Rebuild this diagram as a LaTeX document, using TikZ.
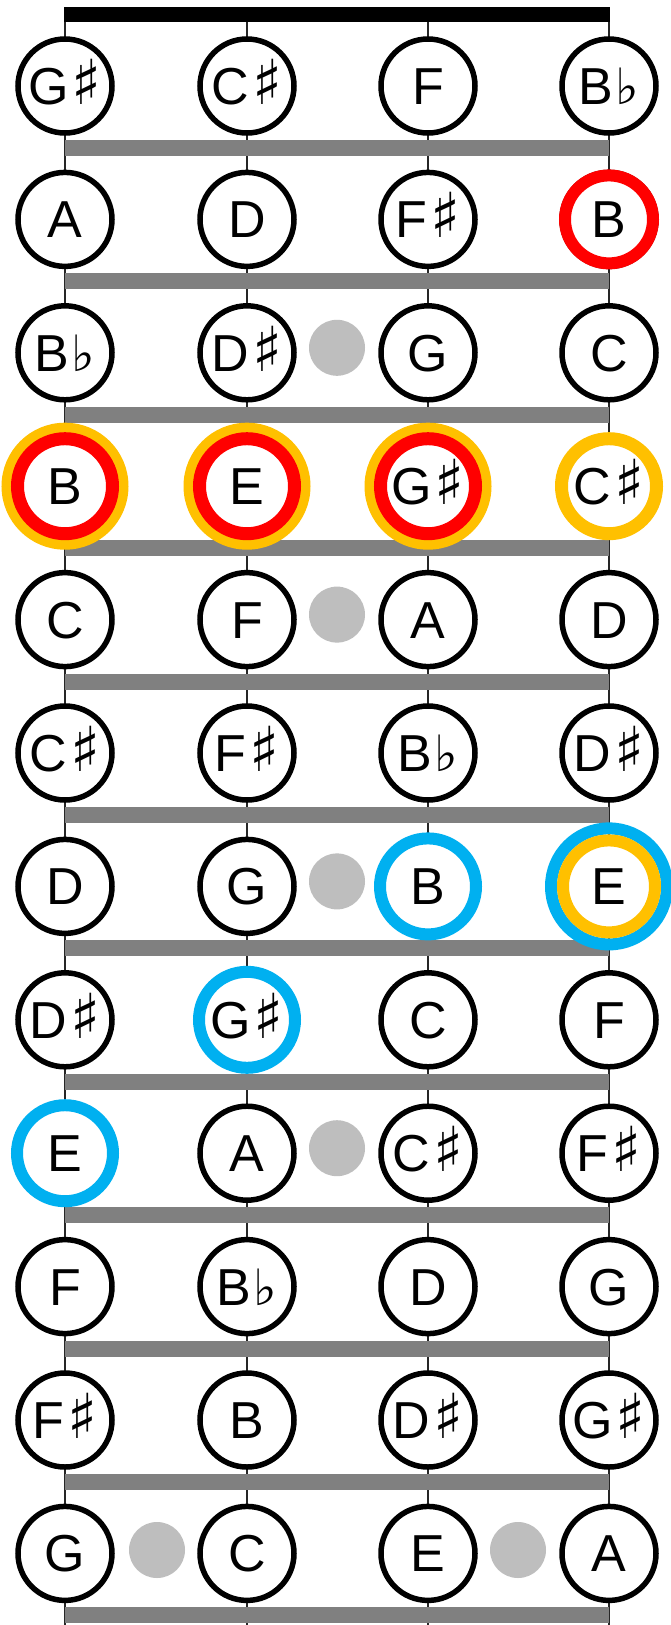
\documentclass[tikz,border=0pt]{standalone}
\usepackage{fontspec}
\setmainfont{Liberation Sans}
\newfontfamily\symfont{DejaVu Sans}
\newcommand\sh{\kern3pt{\symfont\fontsize{62}{62}\selectfont ♯}}
\newcommand\fl{\kern2pt{\symfont\fontsize{50}{50}\selectfont ♭}}
\definecolor{fretgray}{RGB}{128,128,128}
\definecolor{dotgray}{RGB}{190,190,190}
\definecolor{ringred}{RGB}{255,0,0}
\definecolor{ringorange}{RGB}{255,192,0}
\definecolor{ringblue}{RGB}{0,176,240}
\begin{document}
\begin{tikzpicture}[x=1pt,y=-1pt,
  note/.style={circle,draw=black,line width=5.5pt,fill=white,minimum size=94pt,inner sep=0pt,
    text height=37pt,text depth=0pt,font=\fontsize{52}{52}\selectfont},
  stringline/.style={line width=2.5pt,draw=black!85},
  fretbar/.style={line width=16pt,draw=fretgray},
  nutbar/.style={line width=15pt,draw=black},
  marker/.style={circle,fill=dotgray,minimum size=56pt,inner sep=0pt},
  hilite/.style={line width=#1}]
\useasboundingbox (0,0) rectangle (671,1625);
\fill[white] (0,0) rectangle (671,1625);
% strings
\foreach \s/\x in {1/65,2/247,3/428,4/609}{
  \coordinate (top\s) at (\x,7);
  \coordinate (bot\s) at (\x,1625);
  \draw[stringline] (top\s) -- (bot\s);
}
% frets
\foreach \f in {1,...,12}{
  \pgfmathsetmacro\yy{86+(\f-1)*133.4+62}
  \coordinate (fl\f) at (65,\yy);
  \coordinate (fr\f) at (609,\yy);
  \draw[fretbar] (fl\f) -- (fr\f);
}
% nut
\coordinate (nl) at (64,14.5);
\coordinate (nr) at (610,14.5);
\draw[nutbar] (nl) -- (nr);
% position markers
\foreach \r in {3,5,7,9}{
  \pgfmathsetmacro\yy{86+(\r-1)*133.4-5}
  \node[marker] (dot\r) at (337,\yy) {};
}
\node[marker] (dot12a) at (157,1550) {};
\node[marker] (dot12b) at (518,1550) {};
% notes
\foreach \r/\a/\b/\c/\d in {
  1/G\sh/C\sh/F/B\fl,
  2/A/D/F\sh/B,
  3/B\fl/D\sh/G/C,
  4/B/E/G\sh/C\sh,
  5/C/F/A/D,
  6/C\sh/F\sh/B\fl/D\sh,
  7/D/G/B/E,
  8/D\sh/G\sh/C/F,
  9/E/A/C\sh/F\sh,
  10/F/B\fl/D/G,
  11/F\sh/B/D\sh/G\sh,
  12/G/C/E/A}{
  \pgfmathsetmacro\yy{86+(\r-1)*133.4}
  \node[note] (n\r-1) at (65,\yy) {\a};
  \node[note] (n\r-2) at (247,\yy) {\b};
  \node[note] (n\r-3) at (428,\yy) {\c};
  \node[note] (n\r-4) at (609,\yy) {\d};
}
% highlight rings
\draw[hilite=12pt,ringred] (n2-4.center) circle[radius=44pt];
\foreach \s in {1,2,3}{
  \draw[hilite=10pt,ringorange] (n4-\s.center) circle[radius=58.5pt];
  \draw[hilite=13pt,ringred] (n4-\s.center) circle[radius=47.5pt];
}
\draw[hilite=13pt,ringorange] (n4-4.center) circle[radius=47.5pt];
\draw[hilite=12pt,ringblue] (n7-3.center) circle[radius=48pt];
\draw[hilite=12pt,ringblue] (n7-4.center) circle[radius=58pt];
\draw[hilite=12pt,ringorange] (n7-4.center) circle[radius=46pt];
\draw[hilite=12pt,ringblue] (n8-2.center) circle[radius=48pt];
\draw[hilite=12pt,ringblue] (n9-1.center) circle[radius=48pt];
\end{tikzpicture}
\end{document}
